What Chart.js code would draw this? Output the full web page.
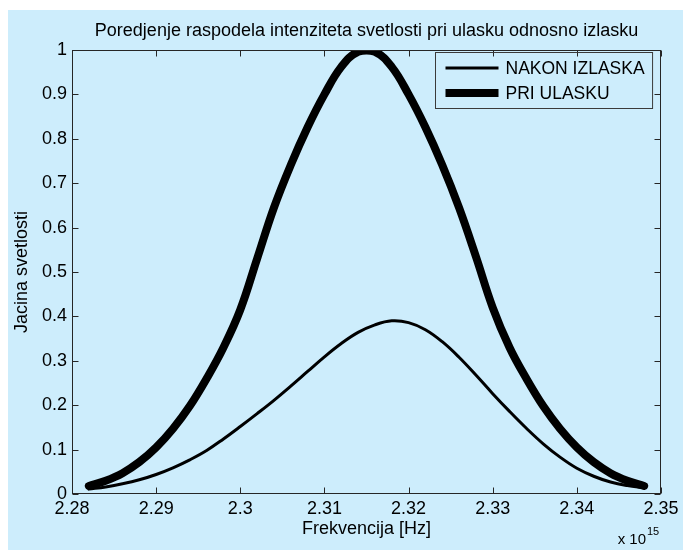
<!DOCTYPE html>
<html>
<head>
<meta charset="utf-8">
<title>Poredjenje raspodela intenziteta svetlosti</title>
<script src="https://cdn.jsdelivr.net/npm/chart.js@4.4.0/dist/chart.umd.min.js"></script>
<style>
    html, body { margin: 0; padding: 0; background: #ffffff; }
    #intensityChart { display: block; }
</style>
</head>
<body>
<canvas id="intensityChart" width="683" height="550"></canvas>
<script>
// Frequency in units of 10^15 Hz
const frequencies = [
    2.282, 2.284, 2.286, 2.288, 2.290, 2.292, 2.294, 2.296, 2.298, 2.300,
    2.302, 2.304, 2.306, 2.308, 2.310, 2.312, 2.314, 2.316, 2.318, 2.320,
    2.322, 2.324, 2.326, 2.328, 2.330, 2.332, 2.334, 2.336, 2.338, 2.340,
    2.342, 2.344, 2.346, 2.348
];

// NAKON IZLASKA (thin line)
const afterExit = [
    0.011, 0.016, 0.023, 0.032, 0.044, 0.059, 0.077, 0.098, 0.124, 0.152,
    0.181, 0.211, 0.243, 0.276, 0.309, 0.339, 0.364, 0.381, 0.390, 0.386,
    0.370, 0.343, 0.308, 0.268, 0.226, 0.186, 0.148, 0.113, 0.083, 0.058,
    0.040, 0.027, 0.019, 0.014
];

// PRI ULASKU (thick line)
const atEntry = [
    0.018, 0.030, 0.047, 0.072, 0.105, 0.147, 0.198, 0.260, 0.330, 0.415,
    0.530, 0.645, 0.741, 0.826, 0.900, 0.962, 0.996, 0.996, 0.962, 0.900,
    0.826, 0.741, 0.645, 0.535, 0.420, 0.330, 0.260, 0.198, 0.147, 0.105,
    0.072, 0.047, 0.030, 0.018
];

const xTicks = [2.28, 2.29, 2.3, 2.31, 2.32, 2.33, 2.34, 2.35];
const yTicks = [0, 0.1, 0.2, 0.3, 0.4, 0.5, 0.6, 0.7, 0.8, 0.9, 1];

const FONT = "'Liberation Sans', Arial, Helvetica, sans-serif";
const FIGURE_BLUE = '#cdedfc';
const AXIS_COLOR = '#262626';

Chart.defaults.font.family = FONT;
Chart.defaults.font.size = 18;
Chart.defaults.color = '#000';

function toPoints(values) {
    return frequencies.map((f, i) => ({ x: f, y: values[i] }));
}

// Background, axes box with inward ticks, title, legend and exponent label
const matlabFrame = {
    id: 'matlabFrame',
    beforeDraw(chart) {
        const { ctx, width, height } = chart;
        ctx.save();
        ctx.fillStyle = '#ffffff';
        ctx.fillRect(0, 0, width, height);
        ctx.fillStyle = FIGURE_BLUE;
        ctx.fillRect(8, 10, width - 8, height - 10);
        ctx.restore();
    },
    afterDraw(chart) {
        const { ctx, chartArea: a, scales: { x, y } } = chart;
        const tick = 6;
        ctx.save();

        // box
        ctx.strokeStyle = AXIS_COLOR;
        ctx.lineWidth = 1;
        const l = Math.round(a.left) + 0.5, r = Math.round(a.right) - 0.5;
        const t = Math.round(a.top) + 0.5, b = Math.round(a.bottom) - 0.5;
        ctx.strokeRect(l, t, r - l, b - t);

        // inward ticks on all four sides
        ctx.beginPath();
        x.ticks.forEach(tk => {
            const px = Math.round(x.getPixelForValue(tk.value)) + 0.5;
            ctx.moveTo(px, b); ctx.lineTo(px, b - tick);
            ctx.moveTo(px, t); ctx.lineTo(px, t + tick);
        });
        y.ticks.forEach(tk => {
            const py = Math.round(y.getPixelForValue(tk.value)) + 0.5;
            ctx.moveTo(l, py); ctx.lineTo(l + tick, py);
            ctx.moveTo(r, py); ctx.lineTo(r - tick, py);
        });
        ctx.stroke();

        // title centred over the axes
        ctx.fillStyle = '#000';
        ctx.font = '18px ' + FONT;
        ctx.textAlign = 'center';
        ctx.textBaseline = 'middle';
        ctx.fillText('Poredjenje raspodela intenziteta svetlosti pri ulasku odnosno izlasku',
            (a.left + a.right) / 2, 31);

        // exponent label
        ctx.textAlign = 'right';
        ctx.textBaseline = 'alphabetic';
        ctx.font = '15px ' + FONT;
        ctx.fillText('x 10', 646, 544);
        ctx.textAlign = 'left';
        ctx.font = '11px ' + FONT;
        ctx.fillText('15', 647, 535);

        // legend
        ctx.font = '17.5px ' + FONT;
        const sets = chart.data.datasets;
        const textW = Math.max(...sets.map(d => ctx.measureText(d.label).width));
        const boxW = 71 + textW + 7;
        const boxH = 56;
        const bx = Math.round(r - 8 - boxW) + 0.5;
        const by = Math.round(a.top + 2) + 0.5;
        ctx.strokeStyle = '#3a3a3a';
        ctx.lineWidth = 1;
        ctx.strokeRect(bx, by, boxW, boxH);
        sets.forEach((d, i) => {
            const ly = by + 15.5 + i * 25;
            ctx.strokeStyle = d.borderColor;
            ctx.lineWidth = d.borderWidth;
            ctx.lineCap = 'butt';
            ctx.beginPath();
            ctx.moveTo(bx + 10, ly);
            ctx.lineTo(bx + 63, ly);
            ctx.stroke();
            ctx.fillStyle = '#000';
            ctx.textAlign = 'left';
            ctx.textBaseline = 'middle';
            ctx.fillText(d.label, bx + 70, ly + 1);
        });

        ctx.restore();
    }
};

const ctx = document.getElementById('intensityChart').getContext('2d');

window.intensityChart = new Chart(ctx, {
    type: 'line',
    data: {
        datasets: [{
            label: 'NAKON IZLASKA',
            data: toPoints(afterExit),
            borderColor: '#000',
            borderWidth: 3,
            pointRadius: 0,
            tension: 0.4,
            borderCapStyle: 'round',
            borderJoinStyle: 'round',
            fill: false
        }, {
            label: 'PRI ULASKU',
            data: toPoints(atEntry),
            borderColor: '#000',
            borderWidth: 8,
            pointRadius: 0,
            tension: 0.4,
            borderCapStyle: 'round',
            borderJoinStyle: 'round',
            fill: false
        }]
    },
    options: {
        responsive: false,
        animation: false,
        layout: {
            padding: { left: 0, right: 22, top: 50, bottom: 0 }
        },
        scales: {
            x: {
                type: 'linear',
                min: 2.28,
                max: 2.35,
                afterBuildTicks: scale => {
                    scale.ticks = xTicks.map(v => ({ value: v }));
                },
                afterFit: scale => { scale.height = 56; },
                grid: { display: false, drawTicks: false },
                border: { display: false },
                ticks: {
                    padding: 4,
                    maxRotation: 0,
                    autoSkip: false,
                    callback: value => String(value)
                },
                title: {
                    display: true,
                    text: 'Frekvencija [Hz]',
                    padding: { top: 0, bottom: 10 }
                }
            },
            y: {
                min: 0,
                max: 1,
                afterBuildTicks: scale => {
                    scale.ticks = yTicks.map(v => ({ value: v }));
                },
                afterFit: scale => { scale.width = 72; },
                grid: { display: false, drawTicks: false },
                border: { display: false },
                ticks: {
                    padding: 5,
                    autoSkip: false,
                    callback: value => String(value)
                },
                title: {
                    display: true,
                    text: 'Jacina svetlosti',
                    padding: { top: 11, bottom: 0 }
                }
            }
        },
        plugins: {
            legend: { display: false },
            title: { display: false },
            tooltip: { enabled: false }
        }
    },
    plugins: [matlabFrame]
});
</script>
</body>
</html>
